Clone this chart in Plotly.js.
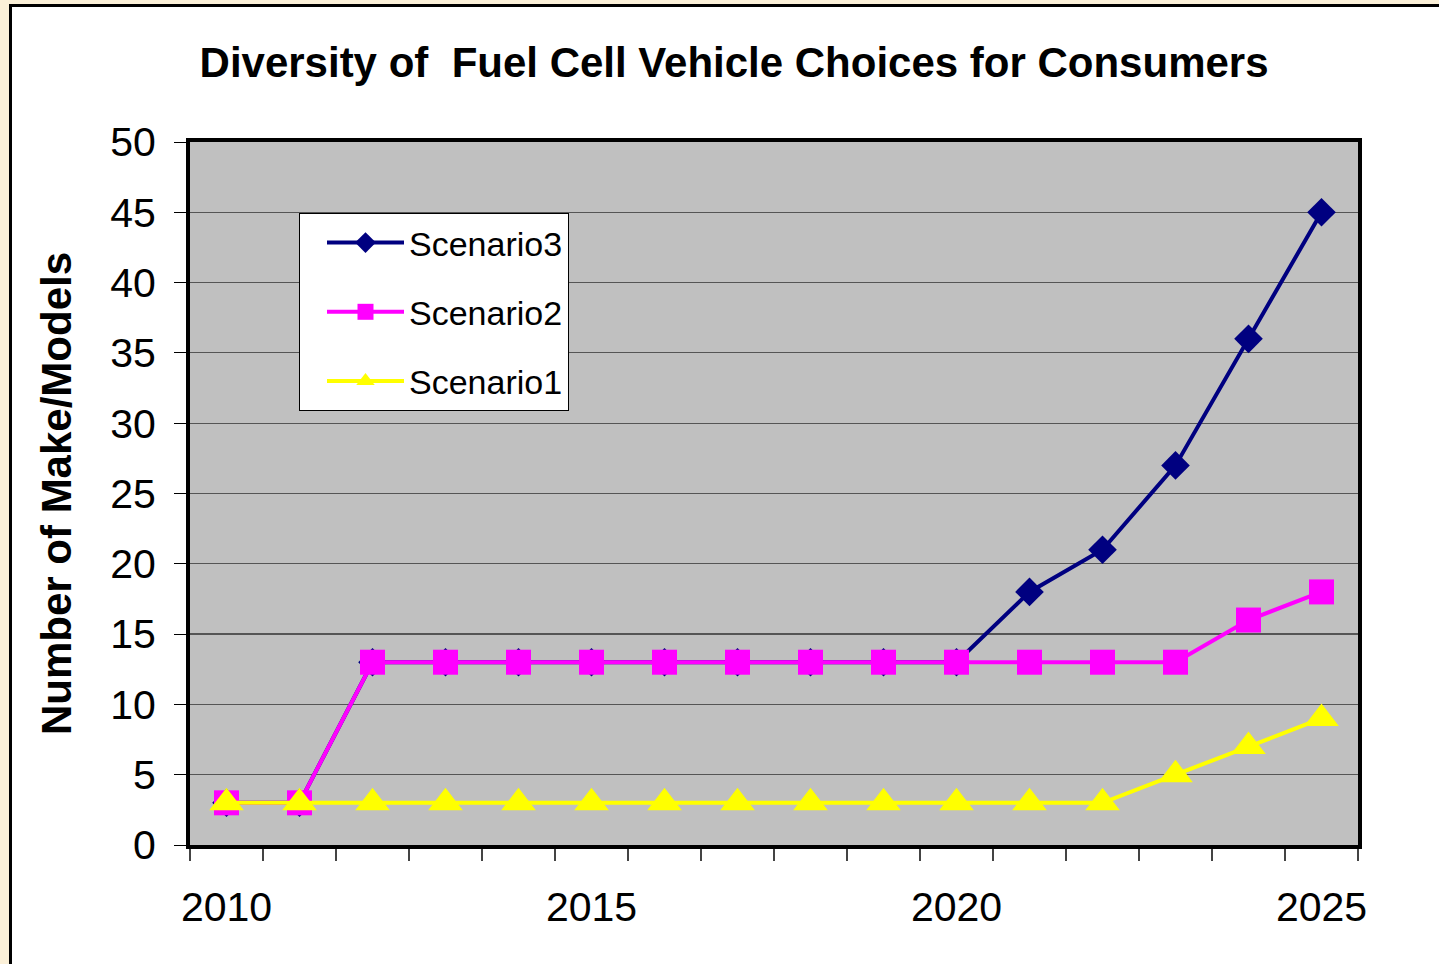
<!DOCTYPE html>
<html>
<head>
<meta charset="utf-8">
<script src="https://cdn.plot.ly/plotly-3.0.1.min.js"></script>
<style>
  html, body { margin: 0; padding: 0; width: 1439px; height: 964px; overflow: hidden; background: #FBF0D8; }
  #frame { position: absolute; left: 9px; top: 4px; width: 1440px; height: 970px; background: #ffffff;
           border-left: 3px solid #000; border-top: 3px solid #000; }
  #chart { position: absolute; left: 0; top: 0; width: 1427px; height: 957px; }
</style>
</head>
<body>
<div id="frame"><div id="chart"></div></div>
<script>
const years = [2010, 2011, 2012, 2013, 2014, 2015, 2016, 2017, 2018, 2019, 2020, 2021, 2022, 2023, 2024, 2025];
const scenario3 = [3, 3, 13, 13, 13, 13, 13, 13, 13, 13, 13, 18, 21, 27, 36, 45];
const scenario2 = [3, 3, 13, 13, 13, 13, 13, 13, 13, 13, 13, 13, 13, 13, 16, 18];
const scenario1 = [3, 3, 3, 3, 3, 3, 3, 3, 3, 3, 3, 3, 3, 5, 7, 9];
const xTickLabels = [2010, 2015, 2020, 2025];
const yTicks = [0, 5, 10, 15, 20, 25, 30, 35, 40, 45, 50];

const FONT = '"Liberation Sans", Arial, sans-serif';

const traces = [
  { name: 'Scenario3', x: years, y: scenario3, type: 'scatter', mode: 'lines+markers',
    legendgroup: 'g3',
    line: { color: '#000080', width: 4 },
    marker: { symbol: 'diamond', size: 22, color: '#000080' } },
  { name: 'Scenario2', x: years, y: scenario2, type: 'scatter', mode: 'lines+markers',
    legendgroup: 'g2',
    line: { color: '#FF00FF', width: 4 },
    marker: { symbol: 'square', size: 25, color: '#FF00FF' } },
  { name: 'Scenario1', x: years, y: scenario1, type: 'scatter', mode: 'lines+markers',
    legendgroup: 'g1',
    line: { color: '#FFFF00', width: 4 },
    marker: { symbol: 'triangle-up', size: 30, color: '#FFFF00' } }
];

const layout = {
  width: 1427, height: 957,
  margin: { l: 178, r: 81, t: 135, b: 119 },
  paper_bgcolor: '#ffffff',
  plot_bgcolor: '#C0C0C0',
  font: { family: FONT, color: '#000' },
  title: {
    text: 'Diversity of \u00a0Fuel Cell Vehicle Choices for Consumers',
    font: { family: FONT, size: 42, color: '#000', weight: 'bold' },
    xref: 'container', yref: 'container',
    x: 0.506, y: 1 - 55 / 957, xanchor: 'center', yanchor: 'middle'
  },
  xaxis: {
    range: [2009.5, 2025.5],
    tickvals: xTickLabels,
    ticktext: xTickLabels.map(String),
    ticks: '',
    ticklabelstandoff: 23,
    tickfont: { family: FONT, size: 41, color: '#000' },
    showgrid: false, zeroline: false,
    showline: true, linecolor: '#000', linewidth: 4, mirror: true,
    minor: { tickmode: 'linear', tick0: 2009.5, dtick: 1, ticks: 'outside', ticklen: 12,
             tickcolor: '#444', tickwidth: 1.5, showgrid: false }
  },
  yaxis: {
    range: [0, 50],
    tickvals: yTicks,
    ticks: 'outside', ticklen: 12, tickcolor: '#000', tickwidth: 1,
    ticklabelstandoff: 10,
    tickfont: { family: FONT, size: 41, color: '#000' },
    showgrid: true, gridcolor: '#555555', gridwidth: 1.2,
    zeroline: false,
    showline: true, linecolor: '#000', linewidth: 4, mirror: true,
    title: { text: 'Number of Make/Models', font: { family: FONT, size: 42, color: '#000', weight: 'bold' }, standoff: 26 }
  },
  showlegend: true,
  legend: {
    x: (299 - 190) / 1168, y: (845 - 213) / 703, xanchor: 'left', yanchor: 'top',
    bgcolor: '#ffffff', bordercolor: '#000', borderwidth: 1,
    font: { family: FONT, size: 34, color: '#000' },
    traceorder: 'grouped', tracegroupgap: 22,
    itemwidth: 77, indentation: 22
  }
};

Plotly.newPlot('chart', traces, layout, { displayModeBar: false, staticPlot: true });
</script>
</body>
</html>
